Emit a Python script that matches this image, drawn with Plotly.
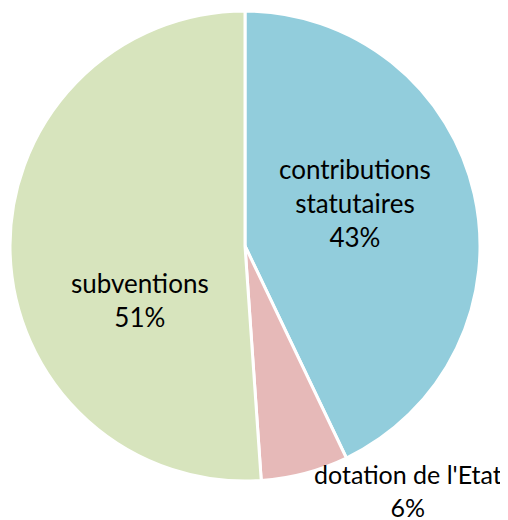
import plotly.graph_objects as go

labels = ["contributions statutaires", "dotation de l'Etat", "subventions"]
label_lines = ["contributions<br>statutaires", "dotation de l'Etat", "subventions"]
values = [42.9, 6.0, 51.1]
colors = ["#92CDDC", "#E6B9B8", "#D7E4BD"]

# page has an 8px body margin: figure occupies 500x512 of the 508x520 window
OFF = 8
W, H = 508 - OFF, 520 - OFF
cx, cy, r = 245 - OFF, 246 - OFF, 235

# label block centres (page px from top-left) and font sizes
label_pos = [(355, 203), (408, 490), (140, 300)]
label_size = [26, 25, 26]

total = sum(values)
fig = go.Figure(go.Pie(
    labels=labels,
    values=values,
    sort=False,
    direction="clockwise",
    rotation=0,
    marker=dict(colors=colors, line=dict(color="white", width=3)),
    textinfo="none",
    hoverinfo="label+percent",
    showlegend=False,
    domain=dict(x=[(cx - r) / W, (cx + r) / W], y=[(H - cy - r) / H, (H - cy + r) / H]),
))

for txt, v, (px, py), fs in zip(label_lines, values, label_pos, label_size):
    fig.add_annotation(
        x=(px - OFF) / W, y=1 - (py - OFF) / H, xref="paper", yref="paper",
        text=f"{txt}<br>{round(100 * v / total)}%",
        showarrow=False, xanchor="center", yanchor="middle",
        font=dict(family="Lato", size=fs, color="black"),
    )

fig.update_layout(
    width=W, height=H,
    margin=dict(l=0, r=0, t=0, b=0),
    paper_bgcolor="white",
    plot_bgcolor="white",
)
fig.write_html("out.html")
